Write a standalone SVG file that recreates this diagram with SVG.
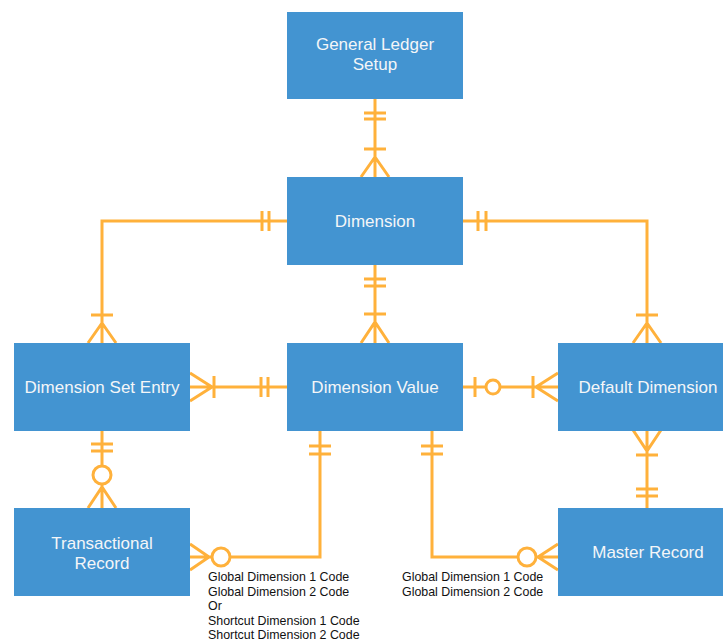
<svg xmlns="http://www.w3.org/2000/svg" width="723" height="641" viewBox="0 0 723 641">
<style>
.box{fill:#4394d1}
.lbl{font-family:"Liberation Sans",Arial,sans-serif;font-size:17px;fill:#f4f6f8;text-anchor:middle}
.c{fill:none;stroke:#ffb13b;stroke-width:3}
.o{fill:#fff;stroke:#ffb13b;stroke-width:3}
.note{font-family:"Liberation Sans",Arial,sans-serif;font-size:12.4px;fill:#111}
</style>
<rect width="723" height="641" fill="#fff"/>
<g id="connectors">
<g id="gls-dim"><path class="c" d="M375 99V177M364 113H386M364 119H386M364 149H386M361 177L375 157L389 177"/></g>
<g id="dim-dv"><path class="c" d="M375 265V343M364 279H386M364 286H386M364 314H386M361 343L375 322L389 343"/></g>
<g id="dim-dse"><path class="c" d="M287 221H102V343M262 211V231M269 211V231M91 315H113M88 343L102 323L116 343"/></g>
<g id="dim-dd"><path class="c" d="M462 221H647V343M478 211V231M486 211V231M636 315H658M633 343L647 323L661 343"/></g>
<g id="dse-dv"><path class="c" d="M190 387H287M190 373L212 387L190 401M214 376V398M261 377V397M268 377V397"/></g>
<g id="dv-dd"><path class="c" d="M462 387H558M475 377V397M533 376V398M558 373L536 387L558 401"/><circle class="o" cx="493" cy="387" r="7"/></g>
<g id="dse-tr"><path class="c" d="M102 430V508M91 444H113M91 451H113M88 508L102 487L116 508"/><circle class="o" cx="102" cy="475" r="9"/></g>
<g id="dd-mr"><path class="c" d="M647 430V508M633 430L647 451L661 430M636 455H658M636 489H658M636 496H658"/></g>
<g id="tr-dv"><path class="c" d="M190 557H320V430M190 544L209 557L190 570M309 446H331M309 454H331"/><circle class="o" cx="221" cy="557" r="9"/></g>
<g id="dv-mr"><path class="c" d="M432 430V557H558M421 446H443M421 454H443M558 544L538 557L558 570"/><circle class="o" cx="527" cy="557" r="9"/></g>
</g>
<g id="general-ledger-setup"><rect class="box" x="287" y="12" width="176" height="87"/><text class="lbl" x="375" y="50">General Ledger</text><text class="lbl" x="375" y="70">Setup</text></g>
<g id="dimension"><rect class="box" x="287" y="177" width="176" height="88"/><text class="lbl" x="375" y="227">Dimension</text></g>
<g id="dimension-set-entry"><rect class="box" x="14" y="343" width="176" height="88"/><text class="lbl" x="102" y="393">Dimension Set Entry</text></g>
<g id="dimension-value"><rect class="box" x="287" y="343" width="176" height="88"/><text class="lbl" x="375" y="393">Dimension Value</text></g>
<g id="default-dimension"><rect class="box" x="558" y="343" width="180" height="88"/><text class="lbl" x="648" y="393">Default Dimension</text></g>
<g id="transactional-record"><rect class="box" x="14" y="508" width="176" height="88"/><text class="lbl" x="102" y="549">Transactional</text><text class="lbl" x="102" y="569">Record</text></g>
<g id="master-record"><rect class="box" x="558" y="508" width="180" height="88"/><text class="lbl" x="648" y="558">Master Record</text></g>
<g id="notes">
<text class="note" x="208" y="581">Global Dimension 1 Code</text>
<text class="note" x="208" y="595.5">Global Dimension 2 Code</text>
<text class="note" x="208" y="610">Or</text>
<text class="note" x="208" y="624.5">Shortcut Dimension 1 Code</text>
<text class="note" x="208" y="639">Shortcut Dimension 2 Code</text>
<text class="note" x="402" y="581">Global Dimension 1 Code</text>
<text class="note" x="402" y="595.5">Global Dimension 2 Code</text>
</g>
</svg>
